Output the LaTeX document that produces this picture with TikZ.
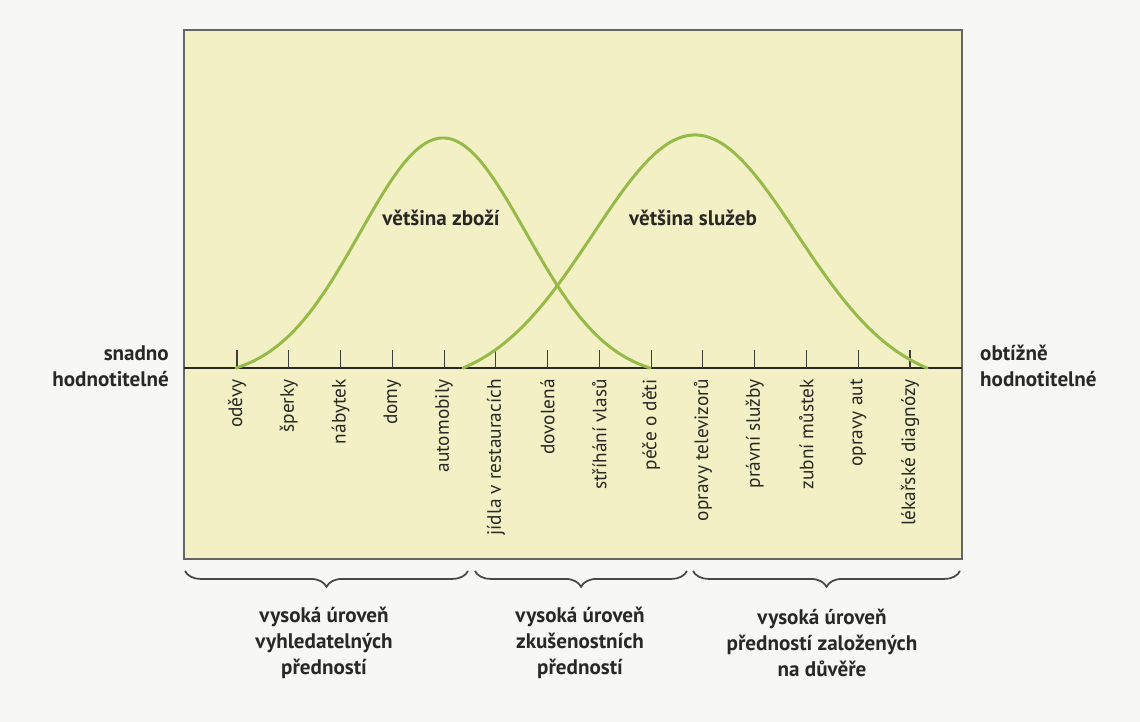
\documentclass[tikz,border=0pt]{standalone}
\usepackage{fontspec}
\setmainfont{PT Sans}
\usetikzlibrary{decorations.pathreplacing}

\definecolor{boxfill}{RGB}{244,240,198}
\definecolor{bellgreen}{RGB}{150,186,72}
\definecolor{pagegray}{RGB}{247,247,246}
\definecolor{ink}{RGB}{40,40,36}

\begin{document}
\begin{tikzpicture}[x=0.02cm, y=-0.02cm,
  bell/.style={bellgreen, line width=1.7pt, line cap=round},
  item/.style={rotate=90, anchor=east, inner sep=0pt, text=ink,
    font=\fontsize{11}{12}\selectfont},
  caption/.style={font=\bfseries\fontsize{12}{15}\selectfont, text=ink},
  grouping/.style={decorate, decoration={brace, mirror, amplitude=9pt},
    draw=ink!85, line width=1pt}]

  % Page and chart area
  \useasboundingbox (0,0) rectangle (1140,722);
  \fill[pagegray] (0,0) rectangle (1140,722);
  \draw[fill=boxfill, draw=gray!80!black, line width=1pt] (184,30) rectangle (962,559);

  % Axis
  \coordinate (axisL) at (184,368);
  \coordinate (axisR) at (962,368);
  \draw[ink, line width=0.9pt] (axisL) -- (axisR);

  % Ticks with their items
  \foreach \lab [count=\i from 0] in {oděvy, šperky, nábytek, domy, automobily,
      jídla v restauracích, dovolená, stříhání vlasů, péče o děti,
      opravy televizorů, právní služby, zubní můstek, opravy aut,
      lékařské diagnózy}
  {
    \coordinate (t\i) at ({237+51.77*\i},368);
    \draw[ink!90, line width=0.6pt] (t\i) -- ++(0,-18);
    \node[item] (l\i) at ({237+51.77*\i},379) {\lab};
  }

  % Curves
  \draw[bell] plot[domain=236:650, samples=160]
    (\x, {368-230*(exp(-0.5*((\x-443)/83)*((\x-443)/83))-0.0446)/0.9554});
  \draw[bell] plot[domain=463:927, samples=160]
    (\x, {368-233*(exp(-0.5*((\x-695)/102)*((\x-695)/102))-0.0753)/0.9247});

  \node[caption] (goods) at (441,218) {většina zboží};
  \node[caption] (services) at (693,218) {většina služeb};

  % Ends of the axis
  \node[caption, align=right, anchor=east] (easy) at (175,366) {snadno\\hodnotitelné};
  \node[caption, align=left, anchor=west] (hard) at (974,366) {obtížně\\hodnotitelné};

  % Braces
  \coordinate (b0) at (185,571);
  \coordinate (b1) at (468,571);
  \coordinate (b2) at (475,571);
  \coordinate (b3) at (687,571);
  \coordinate (b4) at (693,571);
  \coordinate (b5) at (960,571);
  \draw[grouping] (b0) -- (b1);
  \draw[grouping] (b2) -- (b3);
  \draw[grouping] (b4) -- (b5);

  \node[caption, align=center] (search) at (324,643) {vysoká úroveň\\vyhledatelných\\předností};
  \node[caption, align=center] (experience) at (580,643) {vysoká úroveň\\zkušenostních\\předností};
  \node[caption, align=center] (credence) at (822,643) {vysoká úroveň\\předností založených\\na důvěře};
\end{tikzpicture}
\end{document}
